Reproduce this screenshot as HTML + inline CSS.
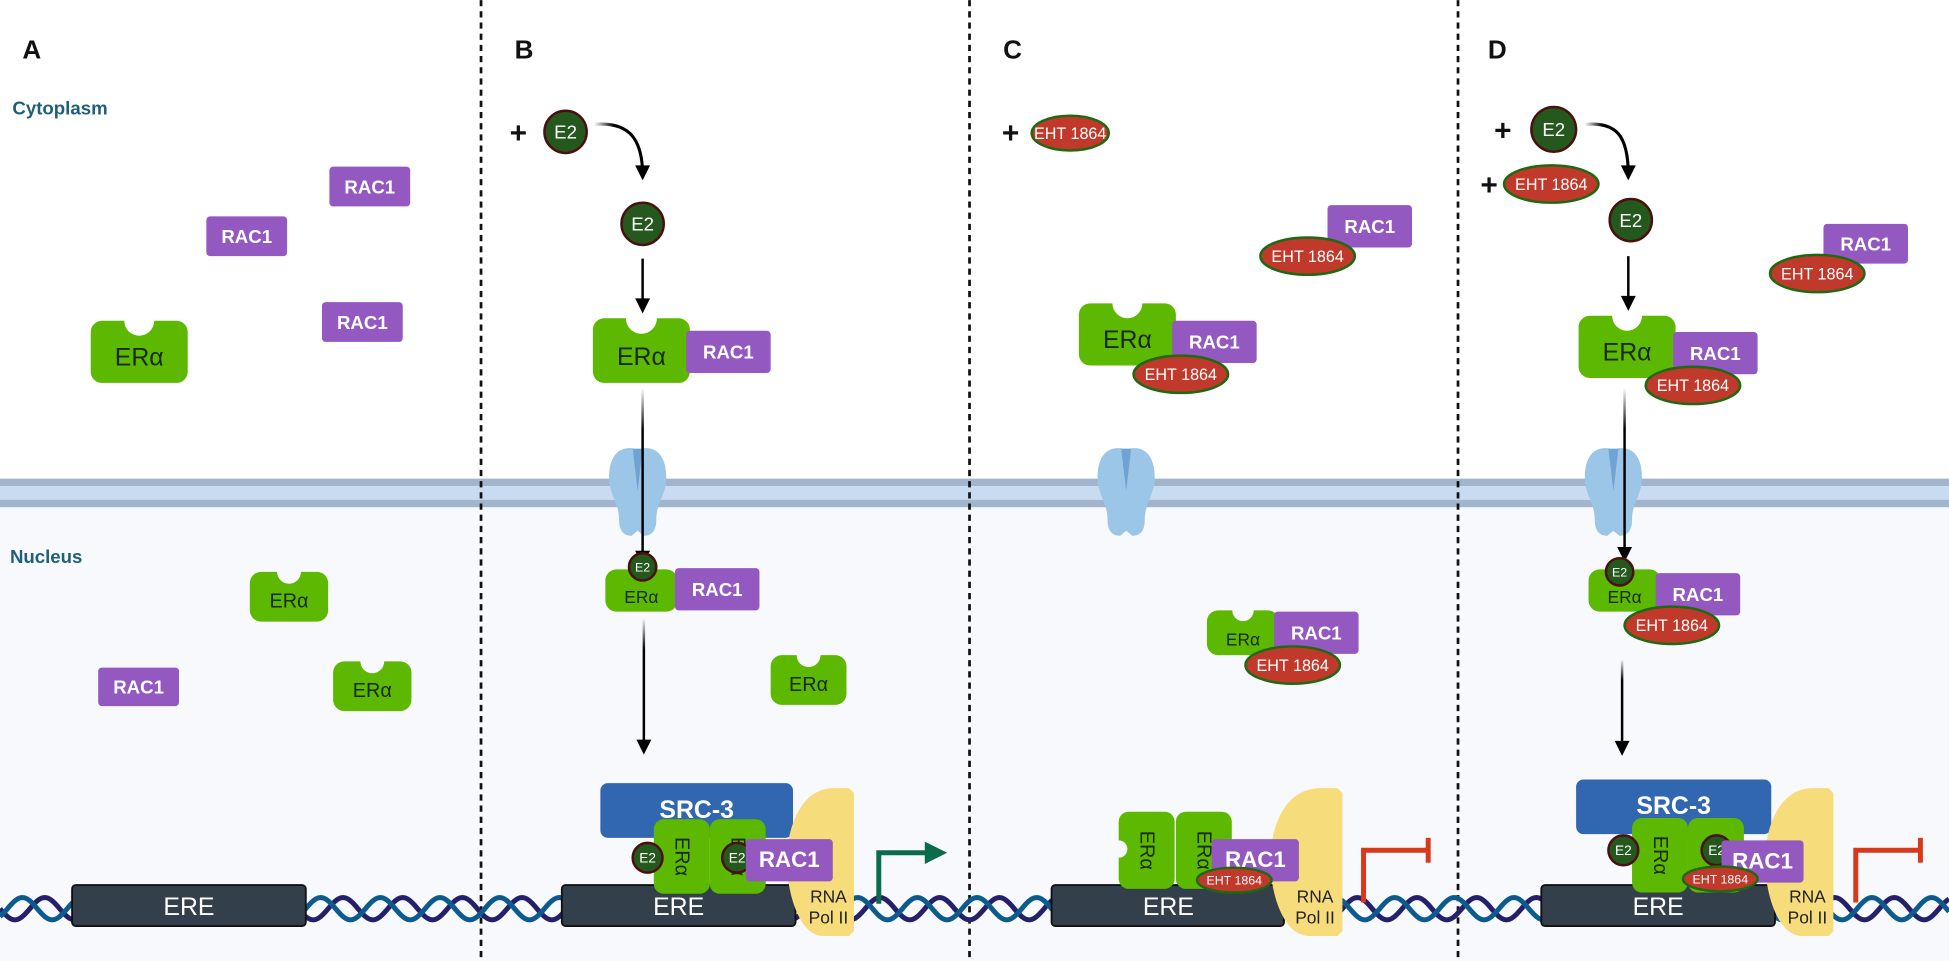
<!DOCTYPE html>
<html><head><meta charset="utf-8"><style>
html,body{margin:0;padding:0;background:#fff;}
svg{display:block;}
text{font-family:"Liberation Sans",sans-serif;}
</style></head><body>
<svg width="1949" height="961" viewBox="0 0 1568 773" xmlns="http://www.w3.org/2000/svg">
<defs>
<linearGradient id="fade" x1="0" y1="0" x2="0" y2="1"><stop offset="0" stop-color="#000" stop-opacity="0"/><stop offset="0.25" stop-color="#000"/></linearGradient>
<linearGradient id="fadeh" x1="0" y1="0" x2="1" y2="0"><stop offset="0" stop-color="#000" stop-opacity="0"/><stop offset="0.4" stop-color="#000"/></linearGradient>
</defs>
<rect x="0" y="0" width="1568" height="773" fill="#fff"/>
<rect x="0" y="408" width="1568" height="365" fill="#f8f9fc"/>
<rect x="0" y="385" width="1568" height="6" fill="#a3b5cd"/>
<rect x="0" y="391" width="1568" height="11" fill="#c8dcf1"/>
<rect x="0" y="402" width="1568" height="6" fill="#a3b5cd"/>
<g stroke="#111" stroke-width="2.2" stroke-dasharray="5,4">
<line x1="387" y1="0" x2="387" y2="773"/><line x1="780" y1="0" x2="780" y2="773"/><line x1="1173" y1="0" x2="1173" y2="773"/>
</g>
<g font-weight="bold" font-size="21" fill="#111">
<text x="18" y="47">A</text><text x="414" y="47">B</text><text x="807" y="47">C</text><text x="1197" y="47">D</text>
</g>
<text x="10" y="92" font-size="15" font-weight="bold" fill="#1e5f7c">Cytoplasm</text>
<text x="8" y="453" font-size="15" font-weight="bold" fill="#1e5f7c">Nucleus</text>
<g id="ch"></g>
<path id="dna1" fill="none" stroke="#24206a" stroke-width="4"/>
<path id="dna2" fill="none" stroke="#0d5b8c" stroke-width="4"/>
<g fill="#343f4c" stroke="#111" stroke-width="1.5">
<rect x="58" y="712" width="188" height="33" rx="3"/>
<rect x="452" y="712" width="188" height="33" rx="3"/>
<rect x="846" y="712" width="187" height="33" rx="3"/>
<rect x="1240" y="712" width="188" height="33" rx="3"/>
</g>
<g fill="#fff" font-size="20" text-anchor="middle">
<text x="152" y="736">ERE</text><text x="546" y="736">ERE</text><text x="940" y="736">ERE</text><text x="1334" y="736">ERE</text>
</g>
<g id="dyn"></g>
</svg>
<script>
const NS="http://www.w3.org/2000/svg";
const dyn=document.getElementById('dyn');
function el(t,a,txt,parent){const e=document.createElementNS(NS,t);for(const k in a)e.setAttribute(k,a[k]);if(txt!==undefined)e.textContent=txt;(parent||dyn).appendChild(e);return e;}
function wave(ph){let d="";for(let x=0;x<=1568;x+=2){const y=731+9*Math.sin((x+ph)/48*2*Math.PI);d+=(x?"L":"M")+x+","+y.toFixed(2);}return d;}
document.getElementById('dna1').setAttribute('d',wave(0));
document.getElementById('dna2').setAttribute('d',wave(18));
const chg=document.getElementById('ch');
function channel(cx){
 const d=`M${cx-2},361 C${cx-16},358 ${cx-23},368 ${cx-23},384 C${cx-23},398 ${cx-15},404 ${cx-15},418 Q${cx-15},431 ${cx-5},431 L${cx},427 L${cx+5},431 Q${cx+15},431 ${cx+15},418 C${cx+15},404 ${cx+23},398 ${cx+23},384 C${cx+23},368 ${cx+16},358 ${cx+2},361 Z`;
 el('path',{d:d,fill:'#9cc6e8'},undefined,chg);
 el('path',{d:`M${cx-4},361 L${cx},395 L${cx+4},361 Z`,fill:'#6fa3d3'},undefined,chg);
}
[513,906,1298].forEach(channel);
function rac(x,y,w,h,fs){el('rect',{x:x,y:y,width:w,height:h,rx:3,fill:'#9359c0'});el('text',{x:x+w/2,y:y+h/2+5.5,'font-size':fs||15,'font-weight':'bold',fill:'#fff','text-anchor':'middle'},'RAC1');}
function er(x,y,w,h,bg,fs,ty){el('rect',{x:x,y:y,width:w,height:h,rx:9,fill:'#5cb800'});el('circle',{cx:x+w/2,cy:y,r:h*0.24,fill:bg});el('text',{x:x+w/2,y:y+h*(ty||0.72),'font-size':fs||20,fill:'#1a2a10','text-anchor':'middle'},'ERα');}
function e2(cx,cy,r,fs){el('circle',{cx:cx,cy:cy,r:r,fill:'#25581c',stroke:'#4a1010','stroke-width':2});el('text',{x:cx,y:cy+fs*0.36,'font-size':fs,fill:'#fff','text-anchor':'middle'},'E2');}
function eht(cx,cy,rx,ry,fs){el('ellipse',{cx:cx,cy:cy,rx:rx,ry:ry,fill:'#c0392b',stroke:'#1e6a12','stroke-width':2});el('text',{x:cx,y:cy+fs*0.36,'font-size':fs,fill:'#fff','text-anchor':'middle'},'EHT 1864');}
function plus(x,y){el('text',{x:x,y:y,'font-size':24,'font-weight':'bold',fill:'#111'},'+');}
function head(x,y){el('path',{d:`M${x-6},${y-12} L${x+6},${y-12} L${x},${y} Z`,fill:'#000'});}
function arrow(x,y1,y2){el('rect',{x:x-1,y:y1,width:2,height:y2-y1-10,fill:'#000'});head(x,y2);}
function arrowF(x,y1,y2){el('rect',{x:x-1,y:y1,width:2,height:y2-y1-8,fill:'url(#fade)'});head(x,y2);}
function curved(x1,y1,x2,y2){el('path',{d:`M${x1},${y1} C${x1+25},${y1-2} ${x2},${y1+8} ${x2},${y2-4}`,fill:'none',stroke:'url(#fadeh)','stroke-width':2.5});head(x2,y2);}
function pol(x,y,w,h){el('path',{d:`M${x+w-4},${y} L${x+w},${y+4} L${x+w},${y+h-4} L${x+w-4},${y+h} L${x+w*0.55},${y+h} C${x+8},${y+h} ${x},${y+h-40} ${x},${y+h*0.5} C${x},${y+30} ${x+12},${y} ${x+w*0.7},${y} Z`,fill:'#f7dc7b'});
 el('text',{x:x+w*0.62,y:y+h-27,'font-size':14,fill:'#222','text-anchor':'middle'},'RNA');el('text',{x:x+w*0.62,y:y+h-10,'font-size':14,fill:'#222','text-anchor':'middle'},'Pol II');}
function erv(x,y,w,h){el('rect',{x:x,y:y,width:w,height:h,rx:8,fill:'#5cb800'});el('text',{x:0,y:0,'font-size':16,fill:'#1a2a10','text-anchor':'middle',transform:`translate(${x+w/2-5},${y+h/2}) rotate(90)`},'ERα');}
function src(x,y,w,h){el('rect',{x:x,y:y,width:w,height:h,rx:6,fill:'#3166b0'});el('text',{x:x+w/2,y:y+28,'font-size':20,'font-weight':'bold',fill:'#fff','text-anchor':'middle'},'SRC-3');}
function inhib(x){el('path',{d:`M${x},726 L${x},684 L${x+52},684`,fill:'none',stroke:'#d63a1b','stroke-width':4});el('line',{x1:x+52,y1:674,x2:x+52,y2:694,stroke:'#d63a1b','stroke-width':4});}

// Panel A
rac(265,134,65,32);rac(166,174,65,32);rac(259,243,65,32);rac(79,537,65,31);
er(73,258,78,50,'#fff',20);er(201,460,63,40,'#f8f9fc',16);er(268,532,63,40,'#f8f9fc',16);

// Panel B
plus(410,115);e2(455,106,17,15);curved(478,100,517,145);e2(517,180,17,15);
er(477,256,78,52,'#fff',20);rac(552,266,68,34);
arrow(517,208,252);
arrowF(517,312,455);
er(487,458,58,34,'#f8f9fc',14,0.8);e2(517,456,11,10);rac(543,457,68,34);
arrowF(518,497,607);
er(620,527,61,40,'#f8f9fc',16);
src(483,630,155,44);erv(526,659,45,60);erv(571,659,45,60);
e2(521,690,12,11);e2(593,690,12,11);
pol(633,634,54,119);
rac(600,675,70,34,18);
el('path',{d:'M707,727 L707,686 L746,686',fill:'none',stroke:'#0b6b4b','stroke-width':4});
el('path',{d:'M744,677 L762,686 L744,695 Z',fill:'#0b6b4b'});

// Panel C
plus(806,115);eht(861,107,31,14,13);
rac(1068,165,68,34);eht(1052,206,38,15,13);
er(868,244,78,50,'#fff',20);rac(943,258,68,34);eht(950,301,38,15,13);
er(971,491,58,36,'#f8f9fc',14,0.78);rac(1025,492,68,34);eht(1040,535,38,15,13);
erv(900,653,45,62);erv(946,653,45,62);
el('circle',{cx:900,cy:683,r:7,fill:'#f8f9fc'});el('circle',{cx:991,cy:683,r:7,fill:'#f8f9fc'});
pol(1022,634,58,119);
rac(975,675,70,34,18);eht(993,708,30,10,10);
inhib(1097);

// Panel D
plus(1202,113);e2(1250,104,18,15);plus(1191,157);eht(1248,148,38,15,13);
curved(1275,100,1310,145);e2(1312,177,17,15);
er(1270,254,78,50,'#fff',20);rac(1346,267,68,34);eht(1362,310,38,15,13);
arrow(1310,206,250);
rac(1467,180,68,32);eht(1462,220,38,15,13);
arrowF(1307,312,452);
er(1278,458,58,34,'#f8f9fc',14,0.8);e2(1303,460,11,10);rac(1332,461,68,34);eht(1345,503,38,15,13);
arrowF(1305,530,608);
src(1268,627,157,44);erv(1313,658,45,60);erv(1358,658,45,60);
e2(1306,684,12,11);e2(1381,684,12,11);
pol(1420,634,55,119);
rac(1385,676,66,34,18);eht(1384,707,30,10,10);
inhib(1493);
</script>
</body></html>
